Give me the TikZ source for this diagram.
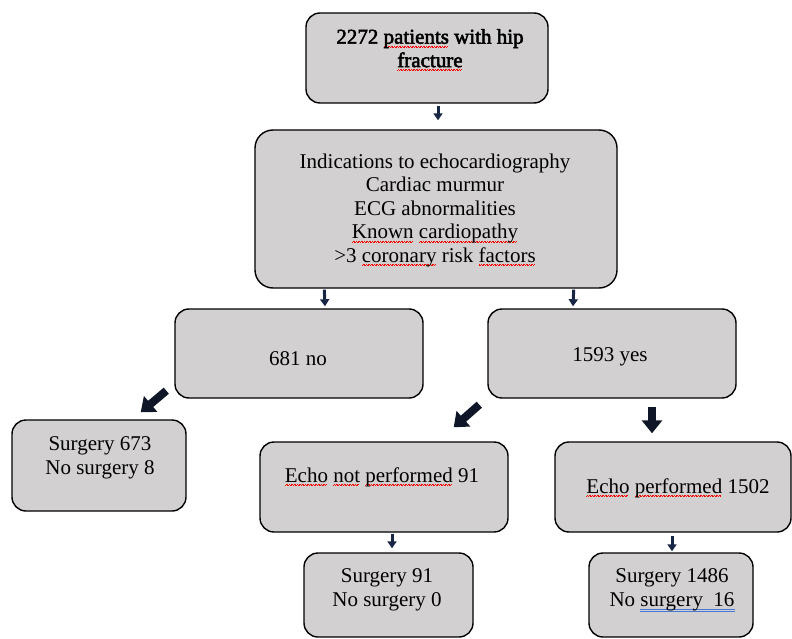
\documentclass[tikz,border=0pt]{standalone}
\usepackage{fontspec}
\setmainfont{Liberation Serif}
\newfontfamily\fboldfam[FakeBold=2.5]{Liberation Serif}
\usetikzlibrary{arrows.meta,calc}
\definecolor{boxgray}{RGB}{210,208,209}
\definecolor{navyarrow}{RGB}{24,38,70}
\definecolor{darkarrow}{RGB}{14,22,40}
\definecolor{ulblue}{RGB}{70,120,215}
\newsavebox\sqbox
\newcommand\redsq[1]{\sbox\sqbox{#1}\rlap{\textcolor{red}{\hbox to \wd\sqbox{\leaders\hbox{\rule[-3.8pt]{0.8pt}{0.7pt}\rule[-3.0pt]{0.8pt}{0.7pt}}\hfill}}}\usebox\sqbox}
\newcommand\bluedu[1]{\sbox\sqbox{#1}\rlap{\textcolor{ulblue}{\rlap{\rule[-3pt]{\wd\sqbox}{0.7pt}}\rule[-5pt]{\wd\sqbox}{0.7pt}}}\usebox\sqbox}
\tikzset{
  box/.style={draw=black, line width=1.4pt, fill=boxgray, rounded corners=14pt, inner sep=0pt},
  txt/.style={font=\fontsize{21}{23.5}\selectfont, align=center, inner sep=0pt},
  sarrow/.style={draw=navyarrow, line width=3pt, -{Triangle[width=9pt,length=7pt]}},
  farrow/.style={draw=darkarrow, line width=8pt, -{Triangle[width=20pt,length=13pt]}}
}
\begin{document}
\begin{tikzpicture}[x=1pt,y=-1pt]
\useasboundingbox (0,0) rectangle (792,639);
% boxes
\node[box, minimum width=242pt, minimum height=90pt] (b1) at (427,58) {};
\node[box, rounded corners=18pt, minimum width=362pt, minimum height=158pt] (b2) at (436,209) {};
\node[box, minimum width=248pt, minimum height=89pt] (b3) at (299,353.5) {};
\node[box, minimum width=248pt, minimum height=89pt] (b4) at (612,353.5) {};
\node[box, minimum width=174pt, minimum height=91pt] (b5) at (99,465.5) {};
\node[box, minimum width=248pt, minimum height=90pt] (b6) at (384,487) {};
\node[box, minimum width=236pt, minimum height=90pt] (b7) at (673,487) {};
\node[box, minimum width=169pt, minimum height=84pt] (b8) at (388.5,595) {};
\node[box, minimum width=164pt, minimum height=84pt] (b9) at (671,595) {};
% texts
\node[txt] (t1) at (430,50) {\fboldfam 2272 \redsq{patients} with hip\\\fboldfam\redsq{fracture}};
\node[txt] (t2) at (435,210) {Indications to echocardiography\\Cardiac murmur\\ECG abnormalities\\\redsq{Known} \redsq{cardiopathy}\\>3 \redsq{coronary} risk \redsq{factors}};
\node[txt] (t3) at (298,359) {681 no};
\node[txt] (t4) at (610,357) {1593 yes};
\node[txt] (t5) at (100,458) {Surgery 673\\No surgery 8};
\node[txt] (t6) at (382,477) {\redsq{Echo} \redsq{not} \redsq{performed} 91};
\node[txt] (t7) at (678,488) {\redsq{Echo} \redsq{performed} 1502};
\node[txt] (t8) at (387,590) {Surgery 91\\No surgery 0};
\node[txt] (t9) at (672,590) {Surgery 1486\\No \bluedu{surgery\ \ 16}};
% small arrows
\draw[sarrow] ($(b1.south)+(11,2)$) -- ($(b2.north)+(2,-9)$);
\draw[sarrow] ($(b2.south west)+(70,1)$) -- ($(b3.north)+(26,-2)$);
\draw[sarrow] ($(b2.south east)+(-44,1)$) -- ($(b4.north)+(-39,-2)$);
\draw[sarrow] ($(b6.south)+(8,1)$) -- ($(b8.north)+(3.5,-4)$);
\draw[sarrow] ($(b7.south)+(-1,3)$) -- ($(b9.north)+(1,-1)$);
% fat arrows
\draw[farrow] ($(b3.south west)+(-8,-8)$) -- ($(b5.north east)+(-46,-7)$);
\draw[farrow] ($(b4.south west)+(-8,6)$) -- ($(b6.north east)+(-55,-14)$);
\draw[farrow] ($(b4.south)+(40,8)$) -- ($(b7.north)+(-21,-8)$);
\end{tikzpicture}
\end{document}
